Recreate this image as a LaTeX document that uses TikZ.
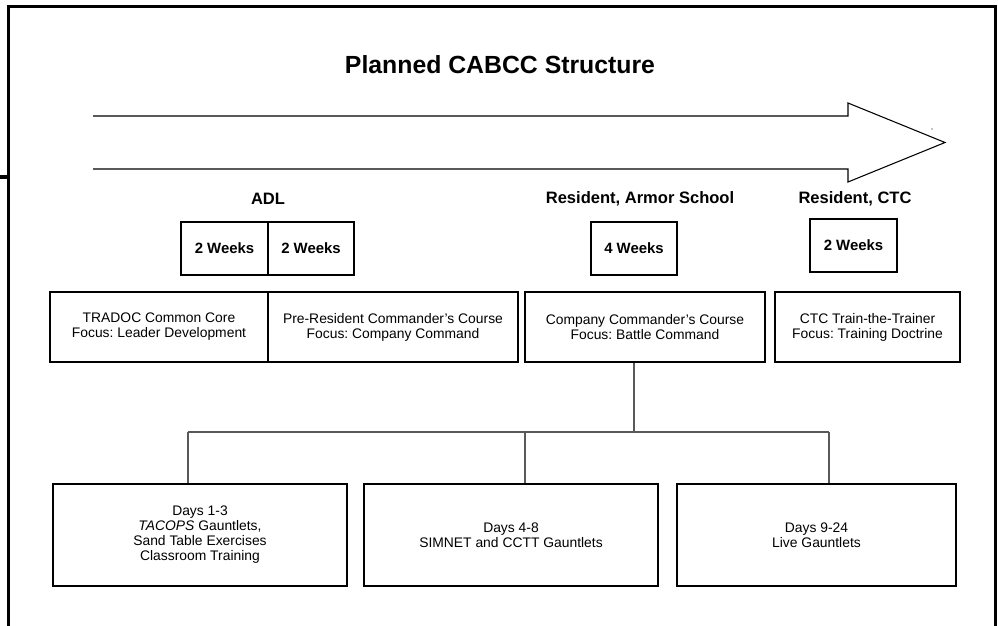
\documentclass[tikz,border=0pt]{standalone}
\usepackage{fontspec}
\setmainfont{Liberation Sans}
\frenchspacing
\begin{document}
\begin{tikzpicture}[x=0.75pt,y=-0.75pt,
  boxline/.style={draw=black,line width=0.8pt},
  weekbox/.style={boxline,minimum height=53*0.75pt,inner sep=0pt,
    font=\fontsize{11.2}{13}\selectfont\bfseries},
  coursebox/.style={boxline,minimum height=70*0.75pt,inner sep=0pt,align=center,
    font=\fontsize{10.4}{11.25}\selectfont},
  daybox/.style={boxline,minimum height=102*0.75pt,inner sep=0pt,align=center,
    font=\fontsize{10.4}{11.25}\selectfont},
  seclabel/.style={inner sep=0pt,font=\fontsize{12.4}{14}\selectfont\bfseries},
  link/.style={draw=black!65,line width=0.9pt}]
\useasboundingbox (0,0) rectangle (998,625);
% frame
\draw[line width=2pt] (8.7,630) -- (8.7,6.7) -- (995.7,6.7) -- (995.7,630);
\draw[line width=2.4pt] (0,177) -- (8,177);
% title
\node[inner sep=0pt,font=\fontsize{18.6}{22}\selectfont\bfseries] (title) at (500,65) {Planned CABCC Structure};
% block arrow
\draw[line width=0.8pt,line join=miter] (93,116) -- (848,116) -- (848,103) -- (945,142.5) -- (848,182) -- (848,169) -- (93,169);
\fill (932,129) circle (0.6);
% section labels
\node[seclabel] (adl) at (268,199) {ADL};
\node[seclabel] (armor) at (640,199) {Resident, Armor School};
\node[seclabel] (ctc) at (855,199) {Resident, CTC};
% week boxes
\node[weekbox,minimum width=87*0.75pt] (wk1) at (224.5,248.5) {2 Weeks};
\node[weekbox,minimum width=86*0.75pt] (wk2) at (311,248.5) {2 Weeks};
\node[weekbox,minimum width=86*0.75pt] (wk3) at (634,248.5) {4 Weeks};
\node[weekbox,minimum width=87*0.75pt] (wk4) at (853.5,245.5) {2 Weeks};
% course boxes
\node[coursebox,minimum width=218*0.75pt] (c1) at (159,327) {TRADOC Common Core\\Focus: Leader Development};
\node[coursebox,minimum width=250*0.75pt] (c2) at (393,327) {Pre-Resident Commander's Course\\Focus: Company Command};
\node[coursebox,minimum width=240*0.75pt] (c3) at (645,327) {Company Commander's Course\\Focus: Battle Command};
\node[coursebox,minimum width=185*0.75pt] (c4) at (867.5,327) {CTC Train-the-Trainer\\Focus: Training Doctrine};
% day boxes
\node[daybox,minimum width=294*0.75pt] (d1) at (200,535) {Days 1-3\\\textit{TACOPS} Gauntlets,\\Sand Table Exercises\\Classroom Training};
\node[daybox,minimum width=294*0.75pt] (d2) at (511,535) {Days 4-8\\SIMNET and CCTT Gauntlets};
\node[daybox,minimum width=279*0.75pt] (d3) at (816.5,535) {Days 9-24\\Live Gauntlets};
% connectors
\coordinate (h1) at (188,432);
\coordinate (h2) at (525,432);
\coordinate (h3) at (829,432);
\coordinate (j) at (634,432);
\draw[link] (c3.south -| j) -- (j);
\draw[link] (h1) -- (h3);
\draw[link] (h1) -- (h1 |- d1.north);
\draw[link] (h2) -- (h2 |- d2.north);
\draw[link] (h3) -- (h3 |- d3.north);
\end{tikzpicture}
\end{document}
